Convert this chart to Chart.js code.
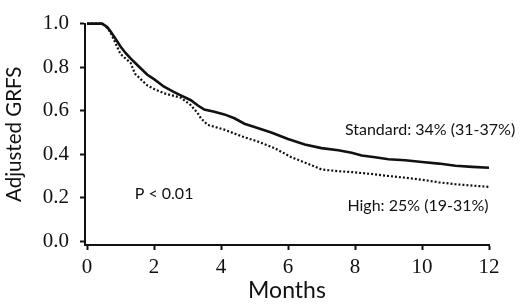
<!DOCTYPE html>
<html>
<head>
<meta charset="utf-8">
<script src="https://cdn.jsdelivr.net/npm/chart.js@4.4.1/dist/chart.umd.min.js"></script>
<style>
  html, body { margin: 0; padding: 0; background: #fff; }
  #wrap { width: 520px; height: 304px; }
</style>
</head>
<body>
<div id="wrap"><canvas id="chart"></canvas></div>
<script>
// Adjusted GRFS by dose group (curves)
const STANDARD_MONTHS = [0, 0.45, 0.6, 0.7, 0.85, 1.0, 1.15, 1.3, 1.5, 1.8, 2.0, 2.3, 2.6, 2.8, 3.1, 3.3, 3.5, 3.8, 4.1, 4.4, 4.7, 5.0, 5.5, 6.0, 6.5, 7.0, 7.5, 7.9, 8.2, 8.6, 9.0, 9.5, 10.0, 10.5, 11.0, 11.5, 12.0];
const STANDARD_GRFS = [1.0, 1.0, 0.985, 0.965, 0.93, 0.895, 0.865, 0.84, 0.81, 0.765, 0.745, 0.71, 0.685, 0.67, 0.648, 0.625, 0.605, 0.595, 0.583, 0.565, 0.54, 0.525, 0.50, 0.47, 0.445, 0.428, 0.418, 0.407, 0.394, 0.386, 0.377, 0.372, 0.364, 0.357, 0.347, 0.342, 0.338];

const HIGH_MONTHS = [0, 0.45, 0.6, 0.7, 0.85, 1.0, 1.15, 1.3, 1.43, 1.6, 1.8, 2.0, 2.3, 2.8, 3.1, 3.3, 3.4, 3.6, 4.1, 4.6, 5.1, 5.6, 6.1, 6.6, 7.0, 7.5, 7.9, 8.5, 9.0, 9.5, 10.0, 10.5, 11.0, 11.5, 12.0];
const HIGH_GRFS = [1.0, 1.0, 0.98, 0.96, 0.91, 0.86, 0.84, 0.82, 0.77, 0.745, 0.716, 0.70, 0.68, 0.66, 0.625, 0.59, 0.565, 0.535, 0.513, 0.483, 0.458, 0.428, 0.386, 0.356, 0.33, 0.322, 0.318, 0.309, 0.30, 0.292, 0.283, 0.271, 0.262, 0.256, 0.25];

const X_TICKS = [0, 2, 4, 6, 8, 10, 12];
const Y_TICKS = [0, 0.2, 0.4, 0.6, 0.8, 1.0];

// annotation texts and where they sit (in data units)
const NOTE_TEXTS = ['Standard: 34% (31-37%)', 'High: 25% (19-31%)', 'P < 0.01'];
const NOTE_X = [10.24, 9.88, 2.3];
const NOTE_Y = [0.511, 0.165, 0.216];

const SANS = 'Lato, "Open Sans", sans-serif';
const SERIF = '"Liberation Serif", "DejaVu Serif", serif';
const INK = '#111';

const toPoints = (xs, ys) => xs.map((x, i) => ({ x: x, y: ys[i] }));

const notesPlugin = {
    id: 'notes',
    afterDatasetsDraw(chart) {
        const { ctx, scales } = chart;
        ctx.save();
        ctx.fillStyle = INK;
        ctx.font = '16px ' + SANS;
        ctx.textAlign = 'center';
        ctx.textBaseline = 'middle';
        NOTE_TEXTS.forEach((t, i) => {
            ctx.fillText(t, scales.x.getPixelForValue(NOTE_X[i]), scales.y.getPixelForValue(NOTE_Y[i]));
        });
        ctx.restore();
    }
};

new Chart(document.getElementById('chart'), {
    type: 'line',
    data: {
        datasets: [
            {
                label: 'Standard',
                data: toPoints(STANDARD_MONTHS, STANDARD_GRFS),
                borderColor: INK,
                borderWidth: 2.6,
                tension: 0,
                pointRadius: 0,
                fill: false
            },
            {
                label: 'High',
                data: toPoints(HIGH_MONTHS, HIGH_GRFS),
                borderColor: INK,
                borderWidth: 2.2,
                borderDash: [2, 2],
                tension: 0,
                pointRadius: 0,
                fill: false
            }
        ]
    },
    options: {
        responsive: true,
        maintainAspectRatio: false,
        animation: false,
        clip: false,
        layout: { padding: { top: 5, right: 31, left: 0, bottom: 0 } },
        plugins: { legend: { display: false }, tooltip: { enabled: false } },
        scales: {
            x: {
                type: 'linear',
                min: -0.06,
                max: 12,
                afterBuildTicks: s => { s.ticks = X_TICKS.map(v => ({ value: v })); },
                afterFit: s => { s.height = 59; },
                border: { display: true, color: INK, width: 2 },
                grid: { drawOnChartArea: false, drawTicks: true, tickLength: 5, tickWidth: 2, tickColor: INK },
                ticks: { color: INK, font: { family: SERIF, size: 21 }, padding: 5, maxRotation: 0 },
                title: { display: true, text: 'Months', color: INK, font: { family: SANS, size: 23 }, padding: { top: -3, bottom: 0 } }
            },
            y: {
                min: -0.017,
                max: 1.0,
                afterBuildTicks: s => { s.ticks = Y_TICKS.map(v => ({ value: v })); },
                afterFit: s => { s.width = 85; },
                border: { display: true, color: INK, width: 2 },
                grid: { drawOnChartArea: false, drawTicks: true, tickLength: 5, tickWidth: 2, tickColor: INK },
                ticks: { color: INK, font: { family: SERIF, size: 21 }, padding: 11, callback: v => v.toFixed(1) },
                title: { display: true, text: 'Adjusted GRFS', color: INK, font: { family: SANS, size: 20.5 }, padding: { top: 2, bottom: 0 } }
            }
        }
    },
    plugins: [notesPlugin]
});
</script>
</body>
</html>
